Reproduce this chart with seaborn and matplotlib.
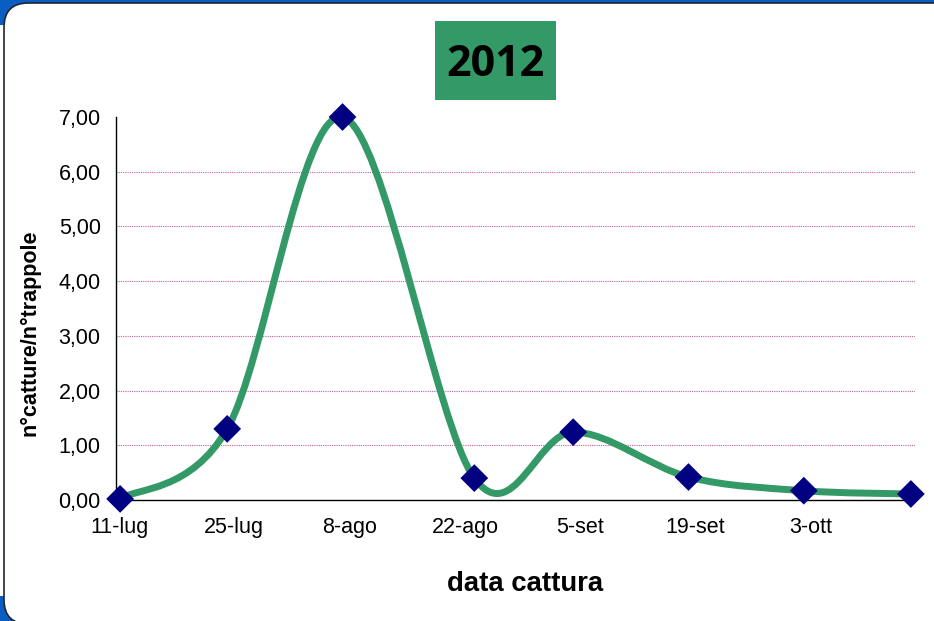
import numpy as np
import pandas as pd
import matplotlib
matplotlib.use("Agg")
import matplotlib.pyplot as plt
import matplotlib.dates as mdates
import matplotlib.transforms as mtransforms
from matplotlib.path import Path
from matplotlib.patches import PathPatch, FancyBboxPatch, Rectangle
import seaborn as sns

# ---------------- data ----------------
capture_dates = ["2012-07-11", "2012-07-24", "2012-08-07", "2012-08-23",
                 "2012-09-04", "2012-09-18", "2012-10-02", "2012-10-15"]
values = [0.02, 1.30, 7.00, 0.40, 1.24, 0.42, 0.17, 0.11]
tick_dates = ["2012-07-11", "2012-07-25", "2012-08-08", "2012-08-22",
              "2012-09-05", "2012-09-19", "2012-10-03"]
tick_labels = ["11-lug", "25-lug", "8-ago", "22-ago", "5-set", "19-set", "3-ott"]
y_ticks = [0, 1, 2, 3, 4, 5, 6, 7]
y_tick_labels = ["0,00", "1,00", "2,00", "3,00", "4,00", "5,00", "6,00", "7,00"]
x_start, x_end = "2012-07-11", "2012-10-16"
title_text = "2012"
x_label = "data cattura"
y_label = "n°catture/n°trappole"

# ---------------- style ----------------
sns.set_theme(style="white")
plt.rcParams['font.family'] = ['Liberation Sans', 'DejaVu Sans']

W, H = 934, 621
fig = plt.figure(figsize=(W / 100, H / 100), dpi=100)
fig.patch.set_facecolor("#0A5EC2")

# white strip on far left and rounded white panel
fig.patches.append(Rectangle((0, 25 / H), 5 / W, (H - 50) / H, transform=fig.transFigure,
                             facecolor="white", edgecolor="none", zorder=0))
panel = FancyBboxPatch((4 / W, -3 / H), (W + 30) / W, (H) / H,
                       boxstyle="round,pad=0,rounding_size=0.026",
                       transform=fig.transFigure, facecolor="white",
                       edgecolor="#1c2633", linewidth=1.2, zorder=0.5,
                       mutation_aspect=W / H)
fig.patches.append(panel)

ax = fig.add_axes([116 / W, (H - 500) / H, (915 - 116) / W, (500 - 117) / H])
ax.set_facecolor("none")
ax.set_zorder(3)

df = pd.DataFrame({"date": pd.to_datetime(capture_dates), "value": values})
df["x"] = mdates.date2num(df["date"]) + 0.5  # points centred in the day (date axis)

# smoothed line (Excel-style Catmull-Rom Bezier through the points)
P = df[["x", "value"]].to_numpy()
n = len(P)
verts = [P[0]]
codes = [Path.MOVETO]
for i in range(n - 1):
    p_prev = P[i - 1] if i > 0 else P[i]
    p_next = P[i + 2] if i + 2 < n else P[i + 1]
    c1 = P[i] + (P[i + 1] - p_prev) / 6.0
    c2 = P[i + 1] - (p_next - P[i]) / 6.0
    verts += [c1, c2, P[i + 1]]
    codes += [Path.CURVE4] * 3
line = PathPatch(Path(verts, codes), facecolor="none", edgecolor="#339966",
                 linewidth=5.0, capstyle="round", joinstyle="round",
                 transform=ax.transData, clip_on=False, zorder=3)
ax.add_patch(line)

sns.scatterplot(data=df, x="x", y="value", marker="D", s=200, color="#000080",
                edgecolor="none", ax=ax, zorder=4, clip_on=False, legend=False)

ax.set_xlim(mdates.date2num(pd.Timestamp(x_start)), mdates.date2num(pd.Timestamp(x_end)))
ax.set_ylim(0, 7)
ax.set_xticks(mdates.date2num(pd.to_datetime(tick_dates)))
ax.set_xticklabels(tick_labels)
ax.set_yticks(y_ticks)
ax.set_yticklabels(y_tick_labels)

ax.grid(axis="y", color="#C0609A", linestyle=(0, (1, 1)), linewidth=0.8)
ax.grid(axis="x", visible=False)
ax.set_axisbelow(True)
gl = ax.yaxis.get_gridlines()
gl[0].set_visible(False)
gl[-1].set_visible(False)

for s in ["top", "right"]:
    ax.spines[s].set_visible(False)
for s in ["left", "bottom"]:
    ax.spines[s].set_color("black")
    ax.spines[s].set_linewidth(1.0)

ax.tick_params(axis="both", which="major", direction="out", length=5, width=1,
               color="#808080", labelsize=15.5, labelcolor="black")
ax.tick_params(axis="y", pad=6)
ax.tick_params(axis="x", pad=7)
shift = mtransforms.ScaledTranslation(3 / 100, 0, fig.dpi_scale_trans)
for lbl in ax.get_xticklabels():
    lbl.set_transform(lbl.get_transform() + shift)
ax.set_xlabel("")
ax.set_ylabel("")

fig.text(30 / W, 1 - 333 / H, y_label, rotation=90, ha="center", va="center",
         fontsize=15.5, fontweight="bold", color="black")
fig.text(525 / W, 1 - 584 / H, x_label, ha="center", va="center",
         fontsize=19.8, fontweight="bold", color="black")

# title box
fig.patches.append(Rectangle((435 / W, 1 - 100 / H), (556 - 435) / W, (100 - 21) / H,
                             transform=fig.transFigure, facecolor="#339966",
                             edgecolor="none", zorder=1))
fig.text(495.5 / W, 1 - 64 / H, title_text, ha="center", va="center",
         fontsize=31, fontweight="bold", color="black",
         family=["Open Sans", "DejaVu Sans"], zorder=2)

fig.savefig("out.png", dpi=100, facecolor=fig.get_facecolor())
